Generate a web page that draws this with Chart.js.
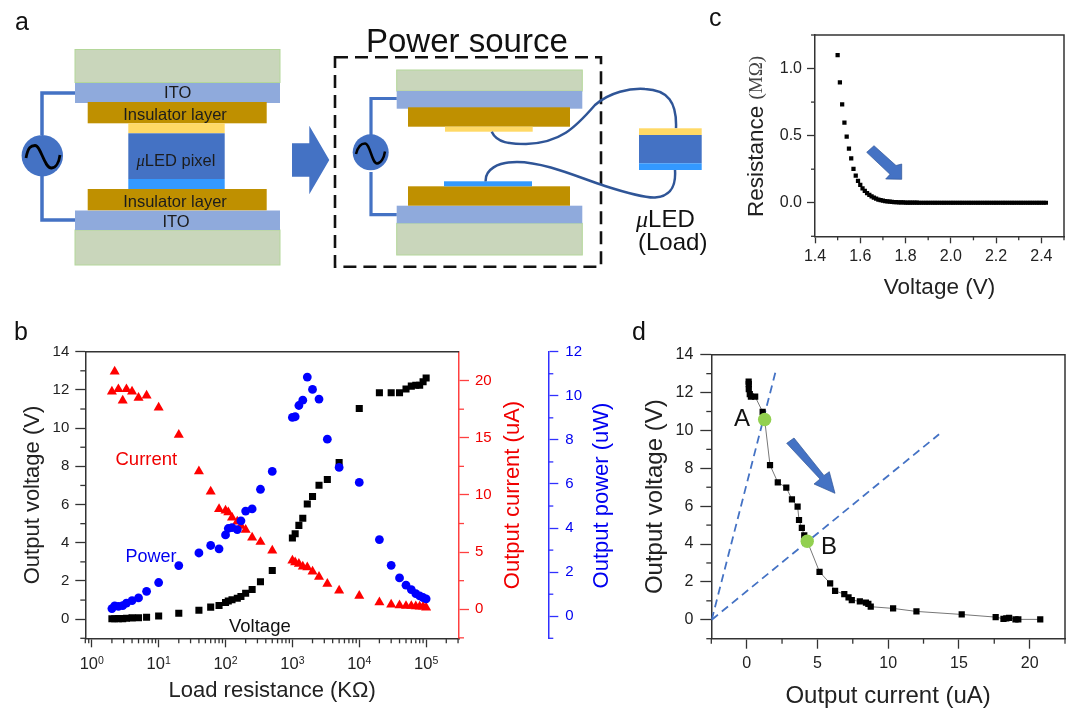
<!DOCTYPE html>
<html>
<head>
<meta charset="utf-8">
<script src="https://cdn.jsdelivr.net/npm/chart.js"></script>
<style>
  html, body { margin: 0; padding: 0; background: #fff; overflow: hidden; }
  body { width: 1072px; height: 708px; position: relative; font-family: "Liberation Sans", Arial, sans-serif; }
  canvas { position: absolute; }
  #overlay { position: absolute; left: 0; top: 0; pointer-events: none; }
  .ser { font-family: "Liberation Serif", serif; font-style: italic; }
</style>
</head>
<body>
<canvas id="chart-b" width="620" height="378" style="left:0;top:330px"></canvas>
<canvas id="chart-c" width="372" height="310" style="left:700px;top:0"></canvas>
<canvas id="chart-d" width="452" height="378" style="left:620px;top:330px"></canvas>

<svg id="overlay" width="1072" height="708" viewBox="0 0 1072 708" font-family="Liberation Sans">
  <!-- panel letters -->
  <g font-size="25" fill="#111">
    <text x="15" y="30">a</text>
    <text x="14" y="340">b</text>
    <text x="709" y="26">c</text>
    <text x="632" y="340">d</text>
  </g>

  <!-- a: device stack -->
  <g stroke="#b4d79a" stroke-width="1">
    <rect x="75" y="49.5" width="205" height="33" fill="#c9d6bb"/>
    <rect x="75" y="230" width="205" height="35" fill="#c9d6bb"/>
  </g>
  <rect x="75" y="83" width="205" height="20" fill="#8faadc"/>
  <rect x="75" y="210.5" width="205" height="19.5" fill="#8faadc"/>
  <rect x="87.7" y="102" width="179" height="21.3" fill="#bf9000"/>
  <rect x="87.7" y="189" width="179" height="21.3" fill="#bf9000"/>
  <rect x="128.3" y="123.3" width="96.4" height="10" fill="#ffd966"/>
  <rect x="128.3" y="133.3" width="96.4" height="45.7" fill="#4472c4"/>
  <rect x="128.3" y="179" width="96.4" height="10" fill="#3399ff"/>
  <g font-size="16.5" fill="#1c1c1c" text-anchor="middle" dominant-baseline="central">
    <text x="177.7" y="92">ITO</text>
    <text x="175" y="114">Insulator layer</text>
    <text x="176" y="160"><tspan class="ser">μ</tspan>LED pixel</text>
    <text x="175" y="201">Insulator layer</text>
    <text x="176" y="221">ITO</text>
  </g>
  <path d="M75 93H42V135M42 175V220H75" fill="none" stroke="#4472c4" stroke-width="3.5"/>
  <circle cx="42.3" cy="155.7" r="20.7" fill="#4472c4"/>
  <path d="M26 158C28 147 31 145.5 35 145.5C41 145.5 44 168 51.5 168C56 168 59 162 60 155" fill="none" stroke="#000" stroke-width="2.8"/>
  <polygon points="292,143.3 309.3,143.3 309.3,125.7 329.3,160 309.3,194.3 309.3,176.7 292,176.7" fill="#4472c4"/>

  <!-- a: power source -->
  <text x="366" y="51.7" font-size="33" fill="#111">Power source</text>
  <g stroke="#b4d79a" stroke-width="1">
    <rect x="396.7" y="70" width="185.6" height="21" fill="#c9d6bb"/>
    <rect x="396.7" y="223.3" width="185.6" height="31.7" fill="#c9d6bb"/>
  </g>
  <rect x="396.7" y="91" width="185.6" height="17.7" fill="#8faadc"/>
  <rect x="396.7" y="205.7" width="185.6" height="17.6" fill="#8faadc"/>
  <rect x="408" y="107.3" width="162" height="19.4" fill="#bf9000"/>
  <rect x="408" y="186.3" width="162" height="19.4" fill="#bf9000"/>
  <rect x="445" y="126.7" width="87.7" height="5" fill="#ffd966"/>
  <rect x="444" y="181.3" width="88" height="5" fill="#3399ff"/>
  <path d="M396.7 98.5H371V135M371 172V214.7H396.7" fill="none" stroke="#4472c4" stroke-width="3.2"/>
  <circle cx="370.7" cy="152.3" r="18" fill="#4472c4"/>
  <path d="M356 154C358 146 361 143.5 365 143.5C370 143.5 372 163.5 377 163.5C381 163.5 384 158 385 151.5" fill="none" stroke="#000" stroke-width="2.5"/>
  <rect x="335" y="57.3" width="266" height="209.4" fill="none" stroke="#111" stroke-width="2.6" stroke-dasharray="13 7"/>
  <path d="M491.7 131.7C497 143 510 144 526 144C560 143 575 128 595 105C610 92 630 88 645 89C668 90 677 102 676 128.3" fill="none" stroke="#2f5597" stroke-width="2.5"/>
  <path d="M485.7 181.3C485 170 497 162 517 162C545 162 580 178 605 186C630 194 645 198 655 197.5C672 196 676 185 675 170" fill="none" stroke="#2f5597" stroke-width="2.5"/>
  <rect x="639" y="128.3" width="62.7" height="6.7" fill="#ffd966"/>
  <rect x="639" y="135" width="62.7" height="28.3" fill="#4472c4"/>
  <rect x="639" y="163.3" width="62.7" height="6.7" fill="#3399ff"/>
  <text x="636" y="226.7" font-size="24" fill="#111"><tspan class="ser">μ</tspan>LED</text>
  <text x="638" y="250" font-size="24" fill="#111">(Load)</text>

  <!-- b: notes and right axis titles -->
  <text x="115.5" y="465" font-size="18.5" fill="#f00000">Current</text>
  <text x="125.5" y="562.3" font-size="18" fill="#0000f0">Power</text>
  <text x="229" y="631.7" font-size="18.5" fill="#111">Voltage</text>
  <text transform="translate(511.7,495) rotate(-90)" font-size="22" fill="#f00000" text-anchor="middle" dominant-baseline="central">Output current (uA)</text>
  <text transform="translate(600,495.5) rotate(-90)" font-size="22" fill="#0000f0" text-anchor="middle" dominant-baseline="central">Output power (uW)</text>

  <!-- c: mixed font axis title and arrow -->
  <text transform="translate(755,136.5) rotate(-90)" font-size="22.5" fill="#222" text-anchor="middle" dominant-baseline="central">Resistance <tspan font-size="19" font-family="Liberation Serif" fill="#444">(MΩ)</tspan></text>
  <polygon points="866.7,152.3 874,145.7 896,165.5 901.7,164 901.7,179.3 885.7,179 890,174.3" fill="#4472c4" stroke="#2f5597" stroke-width="0.7"/>

  <!-- d: labels and arrow -->
  <text x="734" y="426" font-size="24" fill="#111">A</text>
  <text x="821" y="554" font-size="24" fill="#111">B</text>
  <polygon points="786.7,443.3 794,438 824,475.5 829.3,471.7 835,493.3 814,484 820,479" fill="#4472c4" stroke="#2f5597" stroke-width="0.7"/>
</svg>

<script>
// panel b
const loadRes = [2, 2.2, 2.5, 2.9, 3.3, 4, 5, 6.6, 10, 20, 40, 60, 80, 100, 110, 125, 150, 170, 200, 250, 333, 500,
  1000, 1100, 1250, 1430, 1670, 2000, 2500, 3330, 5000, 10000, 20000, 30000, 40000, 50000, 60000, 70000, 80000, 90000, 100000];
const outVoltage = [0.02, 0.02, 0.03, 0.03, 0.05, 0.07, 0.08, 0.1, 0.17, 0.31, 0.47, 0.63, 0.72, 0.87, 0.95, 1.02, 1.1, 1.19, 1.36, 1.55, 1.96, 2.55,
  4.25, 4.47, 4.91, 5.28, 6.03, 6.42, 7.01, 7.31, 8.2, 11.03, 11.85, 11.85, 11.85, 12.05, 12.2, 12.24, 12.24, 12.43, 12.62];
const outCurrent = [19.05, 20.8, 19.25, 18.25, 19.25, 19.05, 18.5, 18.7, 17.65, 15.25, 12.07, 10.3, 8.77, 8.63, 8.48, 8.02, 7.67, 7.3, 6.94, 6.27, 5.89, 5.13,
  4.26, 4.11, 3.97, 3.73, 3.67, 3.29, 2.83, 2.22, 1.63, 1.17, 0.61, 0.41, 0.35, 0.29, 0.29, 0.26, 0.23, 0.23, 0.15];
const outPower = [0.35, 0.47, 0.45, 0.48, 0.6, 0.71, 0.83, 1.13, 1.53, 2.3, 2.87, 3.21, 3.06, 3.69, 3.98, 4.02, 3.93, 4.33, 4.77, 4.87, 5.76, 6.57,
  9.02, 9.05, 9.56, 9.8, 10.85, 10.29, 9.85, 8.03, 6.75, 6.07, 3.48, 2.31, 1.74, 1.41, 1.21, 1.03, 0.92, 0.85, 0.79];

// panel c
const ledVoltage = [1.5, 1.51, 1.52, 1.53, 1.54, 1.55, 1.56, 1.57, 1.58, 1.59, 1.6, 1.61, 1.62, 1.63, 1.64, 1.65, 1.66, 1.67, 1.68, 1.69,
  1.7, 1.71, 1.72, 1.73, 1.74, 1.75, 1.76, 1.77, 1.78, 1.79, 1.8, 1.81, 1.82, 1.83, 1.84, 1.85, 1.86, 1.87, 1.88, 1.89,
  1.9, 1.91, 1.92, 1.93, 1.94, 1.95, 1.96, 1.97, 1.98, 1.99, 2, 2.01, 2.02, 2.03, 2.04, 2.05, 2.06, 2.07, 2.08, 2.09,
  2.1, 2.11, 2.12, 2.13, 2.14, 2.15, 2.16, 2.17, 2.18, 2.19, 2.2, 2.21, 2.22, 2.23, 2.24, 2.25, 2.26, 2.27, 2.28, 2.29,
  2.3, 2.31, 2.32, 2.33, 2.34, 2.35, 2.36, 2.37, 2.38, 2.39, 2.4, 2.41, 2.42];
const ledResistance = [1.1, 0.8975, 0.7325, 0.5975, 0.4925, 0.4025, 0.33, 0.2525, 0.2025, 0.1625, 0.1325, 0.108, 0.088, 0.072, 0.058, 0.047, 0.038, 0.03, 0.024, 0.02,
  0.016, 0.013, 0.01, 0.008, 0.0065, 0.005, 0.004, 0.003, 0.0025, 0.002, 0.0015, 0.001, 0.001, 0.001, 0.001, 0.001, 0, 0, 0, 0,
  0, 0, 0, 0, 0, 0, 0, 0, 0, 0, 0, 0, 0, 0, 0, 0, 0, 0, 0, 0,
  0, 0, 0, 0, 0, 0, 0, 0, 0, 0, 0, 0, 0, 0, 0, 0, 0, 0, 0, 0,
  0, 0, 0, 0, 0, 0, 0, 0, 0, 0, 0, 0, 0];

// panel d
const ivCurrent = [0.14, 0.15, 0.15, 0.22, 0.3, 0.6, 1.13, 1.27, 1.65, 2.2, 2.8, 3.2, 3.6, 3.7, 3.9, 4.07, 4.28, 5.15, 5.9, 6.25, 6.9, 7.2, 7.43,
  8, 8.43, 8.6, 8.77, 10.35, 12, 15.2, 17.6, 18.15, 18.35, 18.55, 19, 19.2, 20.75];
const ivVoltage = [12.58, 12.44, 12.18, 11.92, 11.78, 11.78, 10.98, 10.58, 8.17, 7.26, 6.98, 6.36, 5.98, 5.27, 4.85, 4.46, 4.15, 2.53, 1.92, 1.53, 1.35, 1.18, 1.04,
  0.97, 0.9, 0.84, 0.69, 0.6, 0.44, 0.28, 0.14, 0.05, 0.07, 0.1, 0.02, 0.02, 0.02];
const opCurrent = [1.27, 4.28];
const opVoltage = [10.58, 4.15];
const loadLineACurrent = [-2.47, 2.07];
const loadLineAVoltage = [0, 13.18];
const loadLineBCurrent = [-2.47, 13.6];
const loadLineBVoltage = [0, 9.8];

// tick positions
const vMajor = [0, 2, 4, 6, 8, 10, 12, 14];
const vMinor = [-1, 1, 3, 5, 7, 9, 11, 13];
const iMajor = [0, 5, 10, 15, 20];
const iMinor = [-2.5, 2.5, 7.5, 12.5, 17.5];
const pMajor = [0, 2, 4, 6, 8, 10, 12];
const pMinor = [-1, 1, 3, 5, 7, 9, 11];
const logMajor = [1, 10, 100, 1000, 10000, 100000];
const logMinor = [0.8, 0.9, 2, 3, 4, 5, 6, 7, 8, 9, 20, 30, 40, 50, 60, 70, 80, 90, 200, 300, 400, 500, 600, 700, 800, 900,
  2000, 3000, 4000, 5000, 6000, 7000, 8000, 9000, 20000, 30000, 40000, 50000, 60000, 70000, 80000, 90000, 200000, 300000];
const cxMajor = [1.4, 1.6, 1.8, 2, 2.2, 2.4];
const cxMinor = [1.5, 1.7, 1.9, 2.1, 2.3, 2.5];
const cyMajor = [0, 0.5, 1];
const cyMinor = [-0.25, 0.25, 0.75, 1.25];
const dxMajor = [0, 5, 10, 15, 20];
const dxMinor = [-2.5, 2.5, 7.5, 12.5, 17.5, 22.5];

const ink = '#222';
const frameCol = '#333';
const redAxis = '#ff4040';
const blueAxis = '#3030ff';
const fontName = '"Liberation Sans", Arial, sans-serif';

Chart.defaults.font.family = fontName;
Chart.defaults.font.size = 15;
Chart.defaults.color = ink;
Chart.defaults.animation = false;

function points(xs, ys) {
  return xs.map((x, i) => ({ x: x, y: ys[i] }));
}

// chart.js has one tick length per axis, the short ticks are drawn here
const minorTicksPlugin = {
  id: 'minorTicks',
  afterDraw(chart, args, opts) {
    let ctx = chart.ctx;
    Object.keys(opts.axes || {}).forEach(id => {
      let scale = chart.scales[id];
      let conf = opts.axes[id];
      ctx.save();
      ctx.strokeStyle = conf.color;
      ctx.lineWidth = conf.width || 1.3;
      conf.values.forEach(v => {
        let p = scale.getPixelForValue(v);
        ctx.beginPath();
        if (scale.isHorizontal()) {
          ctx.moveTo(p, scale.top);
          ctx.lineTo(p, scale.top + conf.len);
        } else if (scale.position === 'left') {
          ctx.moveTo(scale.right, p);
          ctx.lineTo(scale.right - conf.len, p);
        } else {
          ctx.moveTo(scale.left, p);
          ctx.lineTo(scale.left + conf.len, p);
        }
        ctx.stroke();
      });
      ctx.restore();
    });
  }
};

// closes the box round the plot
const framePlugin = {
  id: 'frame',
  beforeDatasetsDraw(chart, args, opts) {
    let a = chart.chartArea;
    let ctx = chart.ctx;
    ctx.save();
    ctx.strokeStyle = opts.color || frameCol;
    ctx.lineWidth = 1.5;
    ctx.beginPath();
    ctx.moveTo(a.left, a.top);
    ctx.lineTo(a.right, a.top);
    if (!opts.openRight) ctx.lineTo(a.right, a.bottom);
    ctx.stroke();
    ctx.restore();
  }
};

// 10 with a raised exponent, canvas text has no superscript
const powerLabelsPlugin = {
  id: 'powerLabels',
  afterDraw(chart, args, opts) {
    if (!opts.axis) return;
    let ctx = chart.ctx;
    let scale = chart.scales[opts.axis];
    ctx.save();
    ctx.fillStyle = ink;
    ctx.textAlign = 'left';
    ctx.textBaseline = 'alphabetic';
    scale.ticks.forEach(t => {
      let exp = String(Math.round(Math.log10(t.value)));
      let p = scale.getPixelForValue(t.value);
      ctx.font = '16.5px ' + fontName;
      let w = ctx.measureText('10').width;
      ctx.font = '10.5px ' + fontName;
      let e = ctx.measureText(exp).width;
      let left = p - (w + e) / 2;
      ctx.font = '16.5px ' + fontName;
      ctx.fillText('10', left, scale.top + 30.5);
      ctx.font = '10.5px ' + fontName;
      ctx.fillText(exp, left + w, scale.top + 26);
    });
    ctx.restore();
  }
};

Chart.register(minorTicksPlugin, framePlugin, powerLabelsPlugin);

// fixed axis box so the plot area lands where it should, and fixed tick list
function axis(opts) {
  let size = opts.size;
  let horiz = opts.horiz;
  return {
    type: opts.type || 'linear',
    position: opts.position,
    weight: opts.weight || 0,
    min: opts.min,
    max: opts.max,
    afterBuildTicks: s => { s.ticks = opts.major.map(v => ({ value: v })); },
    afterFit: s => { if (horiz) s.height = size; else s.width = size; },
    grid: {
      drawOnChartArea: false,
      drawTicks: true,
      tickLength: opts.tickLen,
      tickColor: opts.color || frameCol,
      tickWidth: 1.3
    },
    border: { display: true, color: opts.color || frameCol, width: 1.5 },
    ticks: {
      autoSkip: false,
      maxRotation: 0,
      padding: opts.pad,
      color: opts.textColor || ink,
      font: { size: opts.fontSize || 15 },
      callback: opts.label || (v => String(v))
    },
    title: opts.title ? {
      display: true,
      text: opts.title,
      color: ink,
      font: { size: opts.titleSize || 22, lineHeight: 1 },
      padding: opts.titlePad
    } : { display: false }
  };
}

function markers(label, xs, ys, shape, radius, color, yAxis) {
  return {
    label: label,
    data: points(xs, ys),
    yAxisID: yAxis,
    showLine: false,
    pointStyle: shape,
    pointRadius: radius,
    pointBackgroundColor: color,
    pointBorderColor: color,
    pointBorderWidth: 0
  };
}

function dashed(xs, ys) {
  return {
    data: points(xs, ys),
    yAxisID: 'y',
    showLine: true,
    pointRadius: 0,
    borderColor: '#4472c4',
    borderWidth: 1.8,
    borderDash: [8, 5]
  };
}

const baseOptions = {
  responsive: false,
  maintainAspectRatio: false
};

new Chart(document.getElementById('chart-b'), {
  type: 'scatter',
  data: {
    datasets: [
      markers('Power', loadRes, outPower, 'circle', 4.4, '#0000ff', 'yP'),
      markers('Current', loadRes, outCurrent, 'triangle', 5.8, '#ff0000', 'yI'),
      markers('Voltage', loadRes, outVoltage, 'rect', 5, '#000000', 'yV')
    ]
  },
  options: {
    ...baseOptions,
    layout: { padding: { top: 21.7 } },
    scales: {
      x: axis({ type: 'logarithmic', position: 'bottom', horiz: true, size: 69.7, min: 0.8, max: 310000, major: logMajor,
        tickLen: 9, pad: 6, title: 'Load resistance (KΩ)', titlePad: { top: 0, bottom: 6 },
        label: () => '' }),
      yV: axis({ position: 'left', size: 85.3, min: -1, max: 14, major: vMajor, tickLen: 10, pad: 6,
        title: 'Output voltage (V)', titlePad: { top: 22, bottom: 0 } }),
      yI: axis({ position: 'right', weight: 0, size: 89.3, min: -2.54, max: 22.53, major: iMajor, tickLen: 10, pad: 6,
        color: redAxis, textColor: '#f00000' }),
      yP: axis({ position: 'right', weight: 1, size: 71.7, min: -1, max: 12, major: pMajor, tickLen: 10, pad: 7,
        color: blueAxis, textColor: '#0000f0' })
    },
    plugins: {
      legend: { display: false },
      tooltip: { enabled: false },
      frame: { openRight: true },
      powerLabels: { axis: 'x' },
      minorTicks: {
        axes: {
          x: { values: logMinor, len: 5, color: frameCol },
          yV: { values: vMinor, len: 5, color: frameCol },
          yI: { values: iMinor, len: 5, color: redAxis },
          yP: { values: pMinor, len: 5, color: blueAxis }
        }
      }
    }
  }
});

new Chart(document.getElementById('chart-c'), {
  type: 'scatter',
  data: {
    datasets: [markers('Resistance', ledVoltage, ledResistance, 'rect', 3, '#000000', 'y')]
  },
  options: {
    ...baseOptions,
    layout: { padding: { top: 35, right: 8 } },
    scales: {
      x: axis({ position: 'bottom', horiz: true, size: 73.7, min: 1.4, max: 2.5, major: cxMajor, tickLen: 7, pad: 4, fontSize: 16,
        title: 'Voltage (V)', titleSize: 22.5, titlePad: { top: 0, bottom: 11 }, label: v => v.toFixed(1) }),
      y: axis({ position: 'left', size: 115, min: -0.25, max: 1.25, major: cyMajor, tickLen: 8, pad: 5, fontSize: 16,
        label: v => v.toFixed(1) })
    },
    plugins: {
      legend: { display: false },
      tooltip: { enabled: false },
      minorTicks: {
        axes: {
          x: { values: cxMinor, len: 4, color: frameCol },
          y: { values: cyMinor, len: 4, color: frameCol }
        }
      }
    }
  }
});

new Chart(document.getElementById('chart-d'), {
  type: 'scatter',
  data: {
    datasets: [
      markers('Operating points', opCurrent, opVoltage, 'circle', 6.7, '#92d050', 'y'),
      {
        label: 'I-V',
        data: points(ivCurrent, ivVoltage),
        yAxisID: 'y',
        showLine: true,
        borderColor: '#777777',
        borderWidth: 1,
        pointStyle: 'rect',
        pointRadius: 4.4,
        pointBackgroundColor: '#000000',
        pointBorderWidth: 0
      },
      dashed(loadLineACurrent, loadLineAVoltage),
      dashed(loadLineBCurrent, loadLineBVoltage)
    ]
  },
  options: {
    ...baseOptions,
    layout: { padding: { top: 24.7, right: 7 } },
    scales: {
      x: axis({ position: 'bottom', horiz: true, size: 69.3, min: -2.5, max: 22.5, major: dxMajor, tickLen: 10, pad: 5, fontSize: 16,
        title: 'Output current (uA)', titleSize: 24, titlePad: { top: 0, bottom: 0 } }),
      y: axis({ position: 'left', size: 91.3, min: -1, max: 14, major: vMajor, tickLen: 11, pad: 7, fontSize: 16,
        title: 'Output voltage (V)', titleSize: 24, titlePad: { top: 23, bottom: 0 } })
    },
    plugins: {
      legend: { display: false },
      tooltip: { enabled: false },
      minorTicks: {
        axes: {
          x: { values: dxMinor, len: 5, color: frameCol },
          y: { values: vMinor, len: 5, color: frameCol }
        }
      }
    }
  }
});
</script>
</body>
</html>
